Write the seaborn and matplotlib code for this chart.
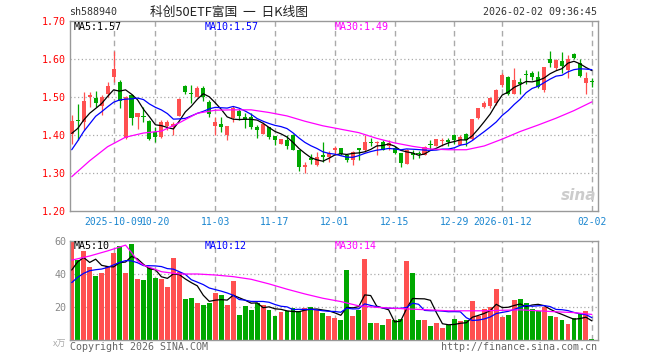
import matplotlib
matplotlib.use("Agg")
import matplotlib.pyplot as plt
import numpy as np
import pandas as pd
import seaborn as sns

sns.set_theme(style="white")
plt.rcParams['font.family'] = ['DejaVu Sans Mono', 'Noto Sans CJK SC']

# 交易日 (国庆、元旦休市)
holidays = pd.to_datetime(["2025-10-01", "2025-10-02", "2025-10-03", "2025-10-06",
                           "2025-10-07", "2025-10-08", "2026-01-01", "2026-01-02"])
days = pd.bdate_range("2025-09-22", "2026-02-02")
days = days[~days.isin(holidays)]

tick_dates = ["2025-10-09", "2025-10-20", "2025-11-03", "2025-11-17", "2025-12-01",
              "2025-12-15", "2025-12-29", "2026-01-12", "2026-02-02"]
tick_labels = ["2025-10-09", "10-20", "11-03", "11-17", "12-01",
               "12-15", "12-29", "2026-01-12", "02-02"]

opens = [1.404, 1.440, 1.436, 1.500, 1.499, 1.477, 1.509, 1.553, 1.541, 1.394,
         1.506, 1.449, 1.452, 1.438, 1.409, 1.396, 1.425, 1.423, 1.452, 1.530,
         1.511, 1.502, 1.525, 1.488, 1.425, 1.430, 1.401, 1.445, 1.463, 1.448,
         1.448, 1.422, 1.404, 1.421, 1.397, 1.378, 1.388, 1.400, 1.360, 1.316,
         1.341, 1.322, 1.347, 1.342, 1.360, 1.366, 1.349, 1.334, 1.367, 1.360,
         1.383, 1.379, 1.382, 1.371, 1.367, 1.353, 1.325, 1.353, 1.352, 1.347,
         1.377, 1.371, 1.384, 1.387, 1.402, 1.375, 1.404, 1.391, 1.445, 1.475,
         1.478, 1.486, 1.532, 1.553, 1.510, 1.541, 1.561, 1.563, 1.553, 1.518,
         1.600, 1.576, 1.596, 1.572, 1.613, 1.589, 1.537, 1.542]
highs = [1.454, 1.482, 1.515, 1.515, 1.517, 1.506, 1.539, 1.622, 1.546, 1.503,
         1.510, 1.458, 1.475, 1.440, 1.421, 1.440, 1.440, 1.436, 1.497, 1.533,
         1.532, 1.530, 1.530, 1.493, 1.449, 1.449, 1.425, 1.476, 1.470, 1.460,
         1.458, 1.427, 1.436, 1.421, 1.397, 1.391, 1.400, 1.404, 1.360, 1.329,
         1.351, 1.356, 1.382, 1.358, 1.371, 1.366, 1.351, 1.358, 1.367, 1.400,
         1.393, 1.385, 1.388, 1.387, 1.373, 1.353, 1.365, 1.360, 1.358, 1.371,
         1.387, 1.389, 1.393, 1.393, 1.404, 1.402, 1.407, 1.444, 1.473, 1.490,
         1.502, 1.522, 1.563, 1.556, 1.578, 1.550, 1.573, 1.568, 1.568, 1.581,
         1.622, 1.600, 1.618, 1.610, 1.616, 1.601, 1.566, 1.551]
lows = [1.378, 1.388, 1.414, 1.475, 1.475, 1.454, 1.502, 1.541, 1.471, 1.390,
        1.427, 1.416, 1.436, 1.388, 1.383, 1.394, 1.414, 1.401, 1.450, 1.510,
        1.486, 1.501, 1.490, 1.449, 1.400, 1.410, 1.388, 1.435, 1.440, 1.418,
        1.417, 1.393, 1.403, 1.389, 1.374, 1.377, 1.365, 1.360, 1.307, 1.300,
        1.325, 1.320, 1.329, 1.329, 1.347, 1.347, 1.329, 1.322, 1.335, 1.356,
        1.371, 1.349, 1.360, 1.360, 1.350, 1.316, 1.325, 1.338, 1.341, 1.347,
        1.365, 1.371, 1.373, 1.373, 1.378, 1.375, 1.373, 1.387, 1.442, 1.471,
        1.472, 1.480, 1.528, 1.505, 1.508, 1.510, 1.536, 1.545, 1.524, 1.515,
        1.580, 1.573, 1.563, 1.550, 1.600, 1.554, 1.508, 1.527]
closes = [1.437, 1.437, 1.489, 1.506, 1.484, 1.502, 1.531, 1.575, 1.489, 1.501,
          1.445, 1.458, 1.449, 1.390, 1.396, 1.434, 1.434, 1.429, 1.496, 1.515,
          1.509, 1.525, 1.502, 1.456, 1.436, 1.423, 1.425, 1.472, 1.451, 1.440,
          1.422, 1.415, 1.430, 1.396, 1.387, 1.391, 1.373, 1.360, 1.316, 1.323,
          1.334, 1.344, 1.342, 1.354, 1.367, 1.350, 1.335, 1.356, 1.360, 1.382,
          1.381, 1.381, 1.362, 1.380, 1.353, 1.327, 1.360, 1.348, 1.350, 1.369,
          1.374, 1.389, 1.386, 1.382, 1.387, 1.396, 1.387, 1.442, 1.471, 1.484,
          1.497, 1.519, 1.559, 1.510, 1.546, 1.534, 1.559, 1.554, 1.528, 1.579,
          1.590, 1.598, 1.582, 1.601, 1.603, 1.557, 1.550, 1.540]
volumes = [59.5, 48.4, 54.0, 44.0, 39.0, 40.8, 44.8, 52.9, 56.9, 40.8,
           58.0, 37.2, 36.4, 43.4, 37.8, 36.8, 32.4, 49.8, 41.2, 24.7,
           25.7, 22.7, 21.3, 22.7, 28.3, 27.3, 21.3, 36.0, 15.3, 20.7,
           18.3, 22.3, 21.3, 17.9, 14.7, 16.7, 17.7, 19.3, 17.3, 19.3,
           19.7, 18.3, 16.3, 14.7, 13.3, 12.3, 42.4, 14.7, 18.3, 49.0,
           10.3, 10.3, 9.2, 12.7, 12.3, 12.7, 47.8, 40.4, 11.9, 11.9,
           8.2, 10.3, 7.0, 8.8, 12.9, 11.7, 11.9, 23.7, 14.3, 18.9,
           20.3, 31.0, 13.7, 15.3, 24.3, 24.9, 22.7, 18.9, 17.3, 20.3,
           14.3, 13.7, 11.9, 9.8, 13.3, 16.3, 17.7, 0.8]

# 窗口起点前的均线值
ma5_head = [1.405, 1.418, 1.440, 1.458]
ma10_head = [1.362, 1.385, 1.410, 1.430, 1.450, 1.462, 1.475, 1.487, 1.493]
vma5_head = [42.4, 47.4, 50.0, 47.0]
vma10_head = [34.8, 38.0, 40.4, 42.0, 42.6, 43.0, 44.0, 45.5, 47.0]

# MA30
ma30_idx = [0, 3, 6, 9, 12, 15, 18, 21, 24, 27, 30, 33, 36, 39, 42, 45, 48, 51,
            54, 57, 60, 63, 66, 69, 72, 75, 78, 81, 84, 87]
ma30_vals = [1.291, 1.333, 1.370, 1.395, 1.406, 1.411, 1.433, 1.458, 1.466, 1.467,
             1.467, 1.460, 1.451, 1.437, 1.425, 1.416, 1.407, 1.392, 1.380, 1.371,
             1.364, 1.362, 1.362, 1.372, 1.390, 1.410, 1.427, 1.445, 1.465, 1.488]
vma30_idx = [0, 3, 6, 9, 10, 11, 12, 15, 18, 21, 24, 27, 30, 33, 36, 39, 42, 45,
             48, 51, 54, 57, 60, 63, 66, 69, 72, 75, 78, 81, 84, 87]
vma30_vals = [48.4, 50.9, 54.0, 57.5, 53.0, 48.0, 45.4, 41.4, 40.0, 40.0, 39.4, 38.4,
              36.8, 34.0, 30.8, 27.9, 25.3, 23.3, 20.7, 19.8, 19.2, 18.7, 18.2, 17.7,
              17.7, 17.7, 18.0, 18.3, 17.7, 17.1, 16.6, 15.5]

RED = "#ff5050"
GREEN = "#00a800"
GRID = "#aaaaaa"

idx = np.arange(len(days))
o = np.array(opens); h = np.array(highs); l = np.array(lows); c = np.array(closes)
up = c >= o
colors = np.where(up, RED, GREEN)

ma5 = pd.Series(c).rolling(5).mean().to_numpy()
ma5[:4] = ma5_head
ma10 = pd.Series(c).rolling(10).mean().to_numpy()
ma10[:9] = ma10_head
vma5 = pd.Series(volumes).rolling(5).mean().to_numpy()
vma5[:4] = vma5_head
vma10 = pd.Series(volumes).rolling(10).mean().to_numpy()
vma10[:9] = vma10_head

tick_idx = [int(np.where(days == pd.Timestamp(d))[0][0]) for d in tick_dates]

W, H = 660, 360
fig = plt.figure(figsize=(6.6, 3.6), dpi=100)
fig.patch.set_facecolor("white")
x0, x1 = 70.3, 597.6
ax1 = fig.add_axes([x0 / W, 1 - 211.3 / H, (x1 - x0) / W, 190 / H])
ax2 = fig.add_axes([x0 / W, 1 - 340 / H, (x1 - x0) / W, 99 / H])

for ax in (ax1, ax2):
    ax.set_facecolor("white")
    for s in ax.spines.values():
        s.set_color("#999999")
        s.set_linewidth(1.0)
    for t in tick_idx:
        ax.axvline(t, color=GRID, lw=1.0, ls=(0, (4, 3)), zorder=0)
    ax.tick_params(length=0)

# K线
ax1.vlines(idx, l, h, colors=colors, lw=0.9, zorder=2)
body = np.maximum(np.abs(c - o), 0.0025)
ax1.bar(idx, body, bottom=np.minimum(o, c), width=0.68, color=colors, linewidth=0, zorder=3)
sns.lineplot(x=idx, y=ma5, color="black", lw=0.9, ax=ax1, zorder=4)
sns.lineplot(x=idx, y=ma10, color="#0000ff", lw=0.9, ax=ax1, zorder=4)
sns.lineplot(x=ma30_idx, y=ma30_vals, color="#ff00ff", lw=0.9, ax=ax1, zorder=4)
for yv in [1.3, 1.4, 1.5, 1.6]:
    ax1.axhline(yv, color=GRID, lw=0.9, ls=(0, (1, 2)), zorder=0)
ax1.set_xlim(-0.24, 87.95)
ax1.set_ylim(1.20, 1.70)
ax1.set_yticks([1.2, 1.3, 1.4, 1.5, 1.6, 1.7])
ax1.set_yticklabels([f"{v:.2f}" for v in [1.2, 1.3, 1.4, 1.5, 1.6, 1.7]], color="#ff0000", fontsize=7.2)
ax1.set_xticks(tick_idx)
ax1.set_xticklabels(tick_labels, color="#1a86d0", fontsize=7.0)
ax1.tick_params(axis="x", pad=4)
ax1.tick_params(axis="y", pad=3)
ax1.set_xlabel(""); ax1.set_ylabel("")

# 成交量
vol_df = pd.DataFrame({"idx": idx, "vol": volumes, "dir": np.where(up, "up", "down")})
sns.barplot(data=vol_df, x="idx", y="vol", hue="dir", palette={"up": RED, "down": GREEN},
            native_scale=True, dodge=False, width=0.82, saturation=1, errorbar=None,
            legend=False, linewidth=0, ax=ax2, zorder=2)
sns.lineplot(x=idx, y=vma5, color="black", lw=0.9, ax=ax2, zorder=4)
sns.lineplot(x=idx, y=vma10, color="#0000ff", lw=0.9, ax=ax2, zorder=4)
sns.lineplot(x=vma30_idx, y=vma30_vals, color="#ff00ff", lw=0.9, ax=ax2, zorder=4)
for yv in [20, 40]:
    ax2.axhline(yv, color=GRID, lw=0.9, ls=(0, (1, 2)), zorder=1)
ax2.set_xlim(-0.24, 87.95)
ax2.set_ylim(0, 60)
ax2.set_yticks([20, 40, 60])
ax2.set_yticklabels(["20", "40", "60"], color="#888888", fontsize=7.2)
ax2.tick_params(axis="y", pad=3)
ax2.set_xticks([])
ax2.set_xlabel(""); ax2.set_ylabel("")


def ftext(x, y, s, **kw):
    fig.text(x / W, 1 - y / H, s, va="center", **kw)


# 标题栏
ftext(69, 12, "sh588940", color="#333333", fontsize=7.2)
ftext(229, 12, "科创50ETF富国  一  日K线图", color="#222222", fontsize=9.2, ha="center",
      family=["Noto Sans CJK SC", "DejaVu Sans"])
ftext(597, 12, "2026-02-02 09:36:45", color="#333333", fontsize=7.2, ha="right")

ftext(74, 27, "MA5:1.57", color="black", fontsize=7.2)
ftext(205, 27, "MA10:1.57", color="#0000ff", fontsize=7.2)
ftext(335, 27, "MA30:1.49", color="#ff00ff", fontsize=7.2)
ftext(74, 246, "MA5:10", color="black", fontsize=7.2)
ftext(205, 246, "MA10:12", color="#0000ff", fontsize=7.2)
ftext(335, 246, "MA30:14", color="#ff00ff", fontsize=7.2)

ftext(579, 196, "sina", color="#cccccc", fontsize=11, ha="center", style="italic",
      weight="bold", family=["DejaVu Sans"])
ftext(66, 344, "x万", color="#aaaaaa", fontsize=6.5, ha="right",
      family=["Noto Sans CJK SC", "DejaVu Sans"])
ftext(70, 347, "Copyright 2026 SINA.COM", color="#666666", fontsize=7.2)
ftext(597, 347, "http://finance.sina.com.cn", color="#666666", fontsize=7.2, ha="right")

fig.savefig("out.png", dpi=100, facecolor="white")
